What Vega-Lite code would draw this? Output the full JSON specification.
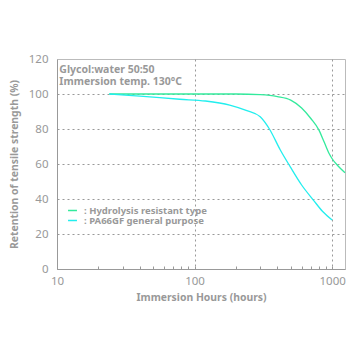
{
  "$schema": "https://vega.github.io/schema/vega-lite/v6.json",
  "autosize": "none",
  "width": 288,
  "height": 210,
  "padding": {"left": 57, "top": 59, "right": 11, "bottom": 87},
  "background": "white",
  "config": {
    "font": "Noto Sans",
    "view": {"stroke": "#bbbbbb", "strokeWidth": 1}
  },
  "datasets": {
    "curves": [
      {"series": "Hydrolysis resistant type", "hours": 24, "retention": 100},
      {"series": "Hydrolysis resistant type", "hours": 50, "retention": 100},
      {"series": "Hydrolysis resistant type", "hours": 100, "retention": 100},
      {"series": "Hydrolysis resistant type", "hours": 200, "retention": 100},
      {"series": "Hydrolysis resistant type", "hours": 300, "retention": 99.6},
      {"series": "Hydrolysis resistant type", "hours": 400, "retention": 98.5},
      {"series": "Hydrolysis resistant type", "hours": 500, "retention": 96.5},
      {"series": "Hydrolysis resistant type", "hours": 600, "retention": 92},
      {"series": "Hydrolysis resistant type", "hours": 700, "retention": 86},
      {"series": "Hydrolysis resistant type", "hours": 800, "retention": 79.5},
      {"series": "Hydrolysis resistant type", "hours": 870, "retention": 73},
      {"series": "Hydrolysis resistant type", "hours": 950, "retention": 66},
      {"series": "Hydrolysis resistant type", "hours": 1000, "retention": 63},
      {"series": "Hydrolysis resistant type", "hours": 1100, "retention": 59},
      {"series": "Hydrolysis resistant type", "hours": 1240, "retention": 55},
      {"series": "PA66GF general purpose", "hours": 24, "retention": 100},
      {"series": "PA66GF general purpose", "hours": 40, "retention": 98.8},
      {"series": "PA66GF general purpose", "hours": 78, "retention": 97},
      {"series": "PA66GF general purpose", "hours": 120, "retention": 96},
      {"series": "PA66GF general purpose", "hours": 180, "retention": 93.7},
      {"series": "PA66GF general purpose", "hours": 240, "retention": 90.5},
      {"series": "PA66GF general purpose", "hours": 300, "retention": 87},
      {"series": "PA66GF general purpose", "hours": 350, "retention": 80},
      {"series": "PA66GF general purpose", "hours": 420, "retention": 68},
      {"series": "PA66GF general purpose", "hours": 495, "retention": 58.5},
      {"series": "PA66GF general purpose", "hours": 600, "retention": 48},
      {"series": "PA66GF general purpose", "hours": 730, "retention": 39.4},
      {"series": "PA66GF general purpose", "hours": 850, "retention": 33},
      {"series": "PA66GF general purpose", "hours": 1000, "retention": 28}
    ],
    "notes": [
      {"text": "Glycol:water 50:50", "hours": 10.4, "retention": 113.7},
      {"text": "Immersion temp. 130°C", "hours": 10.4, "retention": 106.9}
    ]
  },
  "encoding": {
    "x": {
      "field": "hours", "type": "quantitative",
      "scale": {"type": "log", "domain": [10, 1240], "nice": false},
      "axis": {
        "title": "Immersion Hours (hours)",
        "values": [10, 20, 30, 40, 50, 60, 70, 80, 90, 100, 200, 300, 400, 500, 600, 700, 800, 900, 1000],
        "labelExpr": "(datum.value == 10 || datum.value == 100 || datum.value == 1000) ? datum.label : ''",
        "format": "d",
        "labelOverlap": false,
        "labelFlush": false,
        "grid": true,
        "gridColor": "#999999",
        "gridDash": [2, 3],
        "gridOpacity": {"condition": {"test": "datum.value == 100 || datum.value == 1000", "value": 1}, "value": 0},
        "domainColor": "#999999",
        "tickColor": "#999999",
        "tickSize": -3,
        "labelPadding": 9,
        "labelColor": "#999999",
        "labelFontSize": 11.5,
        "titleColor": "#999999",
        "titleFontSize": 10.4,
        "titleFontWeight": "bold",
        "titlePadding": 6
      }
    },
    "y": {
      "field": "retention", "type": "quantitative",
      "scale": {"domain": [0, 120], "nice": false},
      "axis": {
        "title": "Retention of tensile strength (%)",
        "values": [0, 20, 40, 60, 80, 100, 120],
        "labelOverlap": false,
        "labelFlush": false,
        "grid": true,
        "gridColor": "#999999",
        "gridDash": [2, 3],
        "gridOpacity": {"condition": {"test": "datum.value > 0 && datum.value < 120", "value": 1}, "value": 0},
        "domainColor": "#999999",
        "ticks": false,
        "labelPadding": 9,
        "labelColor": "#999999",
        "labelFontSize": 11.5,
        "titleColor": "#999999",
        "titleFontSize": 10.4,
        "titleFontWeight": "bold",
        "titlePadding": 9
      }
    }
  },
  "layer": [
    {
      "data": {"name": "curves"},
      "mark": {"type": "line", "strokeWidth": 1.3, "interpolate": "monotone"},
      "encoding": {
        "color": {
          "field": "series", "type": "nominal",
          "scale": {"domain": ["Hydrolysis resistant type", "PA66GF general purpose"], "range": ["#33ea9c", "#22eeee"]},
          "legend": {
            "title": null,
            "orient": "none",
            "legendX": 10,
            "legendY": 146,
            "symbolType": "stroke",
            "symbolSize": 80,
            "symbolStrokeWidth": 1.5,
            "labelExpr": "': ' + datum.label",
            "labelColor": "#999999",
            "labelFontSize": 9.5,
            "labelFontWeight": "bold",
            "labelOffset": 6,
            "rowPadding": 0,
            "symbolOffset": 0
          }
        }
      }
    },
    {
      "data": {"name": "notes"},
      "mark": {"type": "text", "align": "left", "baseline": "middle", "fontWeight": "bold", "fontSize": 10.5, "color": "#999999"},
      "encoding": {
        "text": {"field": "text"}
      }
    }
  ]
}
